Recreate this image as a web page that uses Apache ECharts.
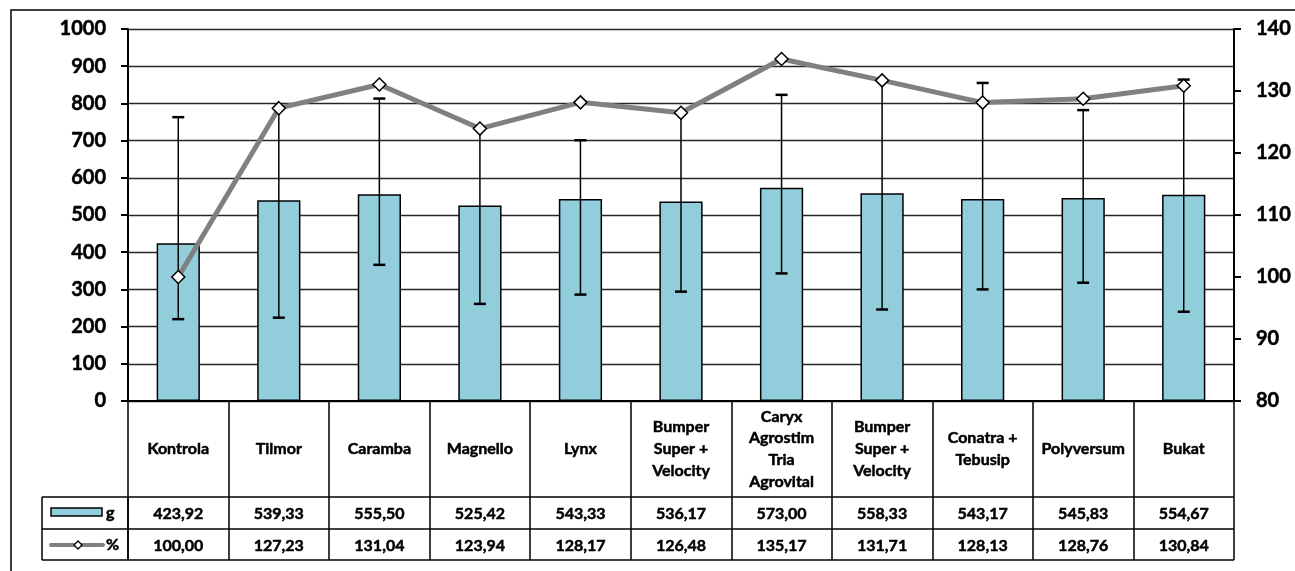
<!DOCTYPE html>
<html><head><meta charset="utf-8">
<script src="https://cdn.jsdelivr.net/npm/echarts@6/dist/echarts.min.js"></script>
<style>html,body{margin:0;padding:0;background:#fff}#c{width:1295px;height:571px}</style>
</head><body><div id="c"></div>
<script>
const categories = ['Kontrola','Tilmor','Caramba','Magnello','Lynx','Bumper\nSuper +\nVelocity','Caryx\nAgrostim\nTria\nAgrovital','Bumper\nSuper +\nVelocity','Conatra +\nTebusip','Polyversum','Bukat'];
const gValues = [423.92,539.33,555.50,525.42,543.33,536.17,573.00,558.33,543.17,545.83,554.67];
const pctValues = [100.00,127.23,131.04,123.94,128.17,126.48,135.17,131.71,128.13,128.76,130.84];
const errHigh = [763,786,813,732,701,773,823,862,855,782,864];
const errLow = [220,224,366,261,286,294,343,246,300,318,240];
const leftTicks = {min:0,max:1000,interval:100};
const rightTicks = {min:80,max:140,interval:10};
const seriesNames = ['g','%'];

const FONT = 'Lato';
const W = 1295, H = 571;
const GRID = {left:128, right:61, top:29, bottom:170};
const plotBottom = H - GRID.bottom;
const row1 = 497, row2 = 529, row3 = 560, legendLeft = 42;
const fmt = v => v.toFixed(2).replace('.', ',');

const chart = echarts.init(document.getElementById('c'), null, {renderer:'canvas'});
const axisText = {fontFamily:FONT, fontWeight:'bold', color:'#000', textBorderColor:'#000', textBorderWidth:0.5};
chart.setOption({
  animation:false,
  grid:{left:GRID.left, right:GRID.right, top:GRID.top, bottom:GRID.bottom, containLabel:false, outerBoundsMode:'none'},
  xAxis:{type:'category', data:categories, boundaryGap:true,
    axisLine:{show:true, lineStyle:{color:'#000', width:2}},
    axisTick:{show:true, interval:0, alignWithLabel:false, length:row3-plotBottom, lineStyle:{color:'#000', width:1.5}},
    axisLabel:Object.assign({interval:0, margin:48, verticalAlign:'middle', align:'center', fontSize:16, lineHeight:21.7}, axisText)
  },
  yAxis:[
    Object.assign({type:'value', position:'left',
      axisLine:{show:true, lineStyle:{color:'#000', width:2}},
      axisTick:{show:true, length:7, lineStyle:{color:'#000', width:2}},
      splitLine:{show:true, lineStyle:{color:'#262626', width:1.3}},
      axisLabel:Object.assign({margin:22, fontSize:20, formatter:v=>String(v)}, axisText)}, leftTicks),
    Object.assign({type:'value', position:'right',
      axisLine:{show:true, lineStyle:{color:'#000', width:2}},
      axisTick:{show:true, length:7, lineStyle:{color:'#000', width:2}},
      splitLine:{show:false},
      axisLabel:Object.assign({margin:22, fontSize:20, formatter:v=>String(v)}, axisText)}, rightTicks)
  ],
  series:[
    {name:seriesNames[0], type:'bar', data:gValues, barWidth:'43%', z:2,
     itemStyle:{color:'#92CDDC', borderColor:'#000', borderWidth:1.5}},
    {type:'custom', z:3, data:categories.map((c,i)=>[i, errHigh[i], errLow[i]]),
     encode:{x:0, y:[1,2]},
     renderItem:function(params, api){
       const x = api.value(0);
       const p1 = api.coord([x, api.value(1)]);
       const p2 = api.coord([x, api.value(2)]);
       const s = {stroke:'#000', lineWidth:1.5};
       const hw = 6;
       return {type:'group', children:[
         {type:'line', shape:{x1:p1[0], y1:p1[1], x2:p2[0], y2:p2[1]}, style:s},
         {type:'line', shape:{x1:p1[0]-hw, y1:p1[1], x2:p1[0]+hw, y2:p1[1]}, style:{stroke:'#000', lineWidth:2.5}},
         {type:'line', shape:{x1:p2[0]-hw, y1:p2[1], x2:p2[0]+hw, y2:p2[1]}, style:{stroke:'#000', lineWidth:2.5}}
       ]};
     }},
    {name:seriesNames[1], type:'line', yAxisIndex:1, data:pctValues, z:5,
     symbol:'diamond', symbolSize:13,
     lineStyle:{color:'#808080', width:5},
     itemStyle:{color:'#fff', borderColor:'#000', borderWidth:1.5}}
  ]
});

// table + frame
const plotLeft = GRID.left, plotRight = W - GRID.right;
const g = [];
g.push({type:'rect', z:0, shape:{x:11, y:10, width:1400, height:700}, style:{fill:'none', stroke:'#000', lineWidth:1.5}});
[row1,row2,row3].forEach(y=>{
  g.push({type:'line', z:10, shape:{x1:legendLeft, y1:y, x2:plotRight, y2:y}, style:{stroke:'#000', lineWidth:1.5}});
});
g.push({type:'line', z:10, shape:{x1:legendLeft, y1:row1, x2:legendLeft, y2:row3}, style:{stroke:'#000', lineWidth:1.5}});
g.push({type:'line', z:10, shape:{x1:plotLeft, y1:row1, x2:plotLeft, y2:row3}, style:{stroke:'#000', lineWidth:1.5}});
const tf = {fontFamily:FONT, fontWeight:'bold', fontSize:16, fill:'#000', stroke:'#000', lineWidth:0.5, align:'center', verticalAlign:'middle'};
categories.forEach((c,i)=>{
  const cx = chart.convertToPixel({xAxisIndex:0}, i);
  g.push({type:'text', z:10, style:Object.assign({x:cx, y:(row1+row2)/2+1, text:fmt(gValues[i])}, tf)});
  g.push({type:'text', z:10, style:Object.assign({x:cx, y:(row2+row3)/2+1, text:fmt(pctValues[i])}, tf)});
});
// legend keys
g.push({type:'rect', z:10, shape:{x:51, y:508, width:51, height:8}, style:{fill:'#92CDDC', stroke:'#000', lineWidth:1.5}});
g.push({type:'text', z:10, style:Object.assign({}, tf, {x:106, y:513, text:seriesNames[0], align:'left'})});
g.push({type:'line', z:10, shape:{x1:51, y1:545, x2:103, y2:545}, style:{stroke:'#808080', lineWidth:4, lineCap:'round'}});
g.push({type:'polygon', z:11, shape:{points:[[78,541],[82,545],[78,549],[74,545]]}, style:{fill:'#fff', stroke:'#000', lineWidth:1.3}});
g.push({type:'text', z:10, style:Object.assign({}, tf, {x:106, y:545, text:seriesNames[1], align:'left'})});
chart.setOption({graphic:g});
</script></body></html>
